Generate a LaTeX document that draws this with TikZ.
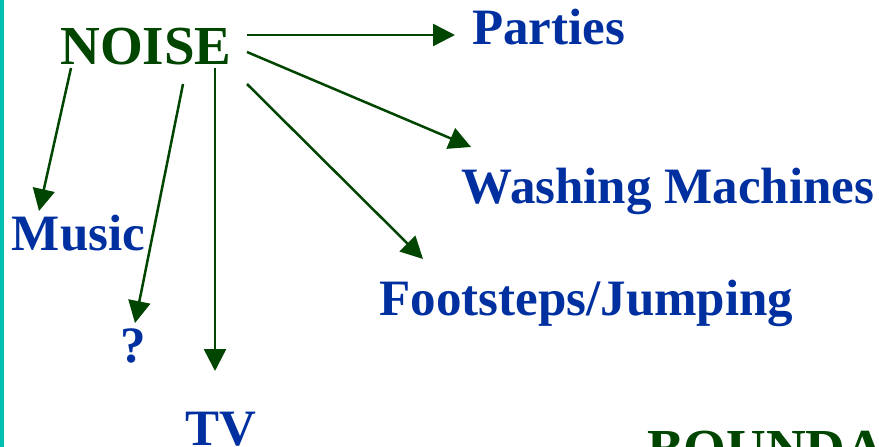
\documentclass[tikz,border=0pt]{standalone}
\usepackage{fontspec}
\setmainfont{Liberation Serif}
\usetikzlibrary{arrows.meta}
\definecolor{dkgreen}{RGB}{0,70,0}
\definecolor{txtblue}{RGB}{0,48,160}
\definecolor{teal1}{RGB}{0,192,178}
\begin{document}
\begin{tikzpicture}[x=1pt,y=-1pt,
  lbl/.style={inner sep=0pt,outer sep=0pt,anchor=base,text=txtblue,font=\fontsize{51}{55}\selectfont\bfseries},
  hdr/.style={inner sep=0pt,outer sep=0pt,anchor=base,text=dkgreen,font=\fontsize{55}{60}\selectfont\bfseries},
  arr/.style={draw=dkgreen,line width=2.5pt,-{Triangle[length=22pt,width=22pt]}}]
\useasboundingbox[fill=white] (0,0) rectangle (879,447);
\fill[teal1] (0,0) rectangle (4,447);
\node[hdr] (noise) at (146,64) {NOISE};
\node[lbl] (parties) at (548.5,44) {Parties};
\node[lbl] (washing) at (668,203) {Washing Machines};
\node[lbl] (music) at (78.5,250) {Music};
\node[lbl] (foot) at (586.5,315) {Footsteps/Jumping};
\node[lbl] (q) at (133,362) {?};
\node[lbl] (tv) at (221,445) {TV};
\node[hdr,anchor=base west] (bound) at (647,467) {BOUNDA};
% connector ends
\coordinate (sP) at (247,35);  \coordinate (eP) at (455,35);
\coordinate (sW) at (247,52);  \coordinate (eW) at (471,147);
\coordinate (sF) at (247,84);  \coordinate (eF) at (423,259);
\coordinate (sT) at (215,68);  \coordinate (eT) at (215,371);
\coordinate (sQ) at (183,84);  \coordinate (eQ) at (135,323);
\coordinate (sM) at (71,68);   \coordinate (eM) at (39,211);
\draw[arr] (sP) -- (eP);
\draw[arr] (sW) -- (eW);
\draw[arr] (sF) -- (eF);
\draw[arr] (sT) -- (eT);
\draw[arr] (sQ) -- (eQ);
\draw[arr] (sM) -- (eM);
\end{tikzpicture}
\end{document}
